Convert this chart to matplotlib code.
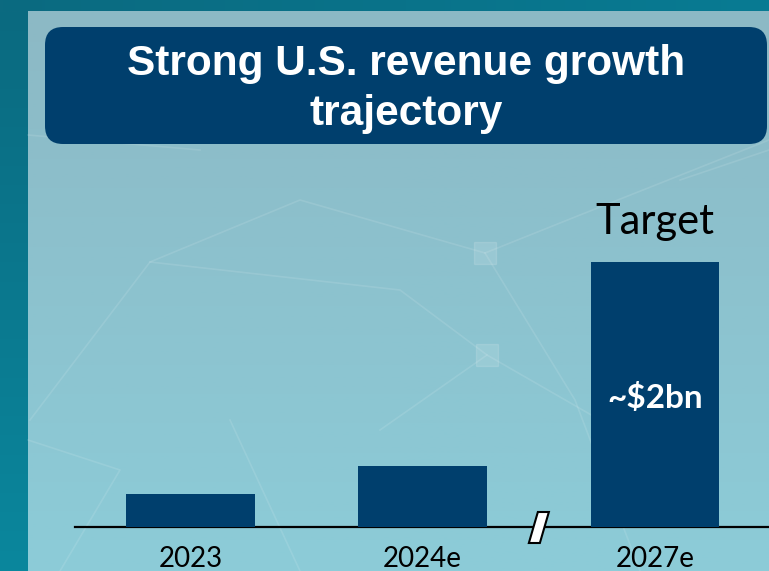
import numpy as np
import matplotlib
matplotlib.use("Agg")
import matplotlib.pyplot as plt
from matplotlib.patches import FancyBboxPatch, Polygon, Rectangle
import matplotlib.transforms as mtransforms
from matplotlib.colors import LinearSegmentedColormap

# ---- data ----
categories = ["2023", "2024e", "2027e"]
revenue_bn = [0.25, 0.46, 2.0]
bar_label = "~$2bn"
target_label = "Target"
title = "Strong U.S. revenue growth\ntrajectory"

NAVY = "#003F6D"

fig = plt.figure(figsize=(7.69, 5.71), dpi=100)

# ---- background ----
bg = fig.add_axes([0, 0, 1, 1], zorder=0)
bg.set_xlim(0, 769)
bg.set_ylim(571, 0)
bg.axis("off")

def grad(c1, c2, horizontal):
    cmap = LinearSegmentedColormap.from_list("g", [c1, c2])
    g = np.linspace(0, 1, 256)
    arr = g[None, :] if horizontal else g[:, None]
    return cmap, arr

cm, arr = grad("#0B6A80", "#087B93", True)
bg.imshow(arr, cmap=cm, extent=(0, 769, 11, 0), aspect="auto", zorder=0)
cm, arr = grad("#0B6A80", "#0A879D", False)
bg.imshow(arr, cmap=cm, extent=(0, 28, 571, 11), aspect="auto", zorder=0)
cm, arr = grad("#8CB9C5", "#8CCCD8", False)
bg.imshow(arr, cmap=cm, extent=(28, 769, 571, 11), aspect="auto", zorder=0)

# faint decorative network lines
net = [
    [(30, 420), (150, 262), (300, 200), (485, 253), (580, 215), (769, 140)],
    [(485, 253), (575, 400), (640, 571)],
    [(150, 262), (400, 290), (487, 355), (380, 430)],
    [(28, 440), (120, 470), (60, 571)],
    [(200, 150), (28, 135)],
    [(487, 355), (600, 420)],
    [(230, 420), (300, 571)],
    [(680, 180), (769, 150)],
]
for pts in net:
    xs, ys = zip(*pts)
    bg.plot(xs, ys, color="white", alpha=0.11, lw=1.2, zorder=1)
for (cx, cy) in [(485, 253), (487, 355)]:
    bg.add_patch(Rectangle((cx - 11, cy - 11), 22, 22, color="white", alpha=0.12, zorder=1))

# title box
bg.add_patch(FancyBboxPatch((45, 27), 722, 117,
                            boxstyle="round,pad=0,rounding_size=18",
                            facecolor=NAVY, edgecolor="none", zorder=2))
bg.text(406, 89, title, ha="center", va="center", color="white",
        fontsize=30.5, fontweight="bold", family=["Liberation Sans"],
        linespacing=1.32, zorder=3)

# ---- bar axes ----
xmin, xmax = -0.4973, 2.4909
ax = fig.add_axes([75 / 769, 44 / 571, 694 / 769, 377 / 571], zorder=2)
ax.patch.set_alpha(0)
x = np.arange(len(categories))
ax.bar(x, revenue_bn, width=0.555, color=NAVY, zorder=3)
ax.set_xlim(xmin, xmax)
ax.set_ylim(0, 2.845)
for s in ["top", "right", "left"]:
    ax.spines[s].set_visible(False)
ax.spines["bottom"].set_linewidth(1.6)
ax.spines["bottom"].set_color("black")
ax.set_yticks([])
ax.set_xticks(x)
ax.set_xticklabels(categories, fontsize=20, family=["Lato", "DejaVu Sans"], color="black")
ax.tick_params(axis="x", length=0, pad=14)

# value label inside last bar
ax.text(x[-1], revenue_bn[-1] * 0.485, bar_label, ha="center", va="center",
        color="white", fontsize=24, fontweight="bold",
        family=["Lato", "DejaVu Sans"], zorder=4)
# target label above last bar
ax.annotate(target_label, xy=(x[-1], revenue_bn[-1]), xytext=(0, 15),
            textcoords="offset points", ha="center", va="bottom",
            fontsize=30, family=["Lato", "DejaVu Sans"], color="black",
            annotation_clip=False)

# axis break mark between 2024e and 2027e
brk_x = (x[1] + x[2]) / 2
trans = mtransforms.Affine2D().scale(fig.dpi / 100.0) + \
    mtransforms.ScaledTranslation(brk_x, 0, ax.transData)
verts = [(-10, -16), (1, -16), (10, 15), (-1, 15)]
ax.add_patch(Polygon(verts, closed=True, transform=trans, facecolor="white",
                     edgecolor="black", lw=1.5, clip_on=False, zorder=6))

fig.savefig("out.png", dpi=100)
